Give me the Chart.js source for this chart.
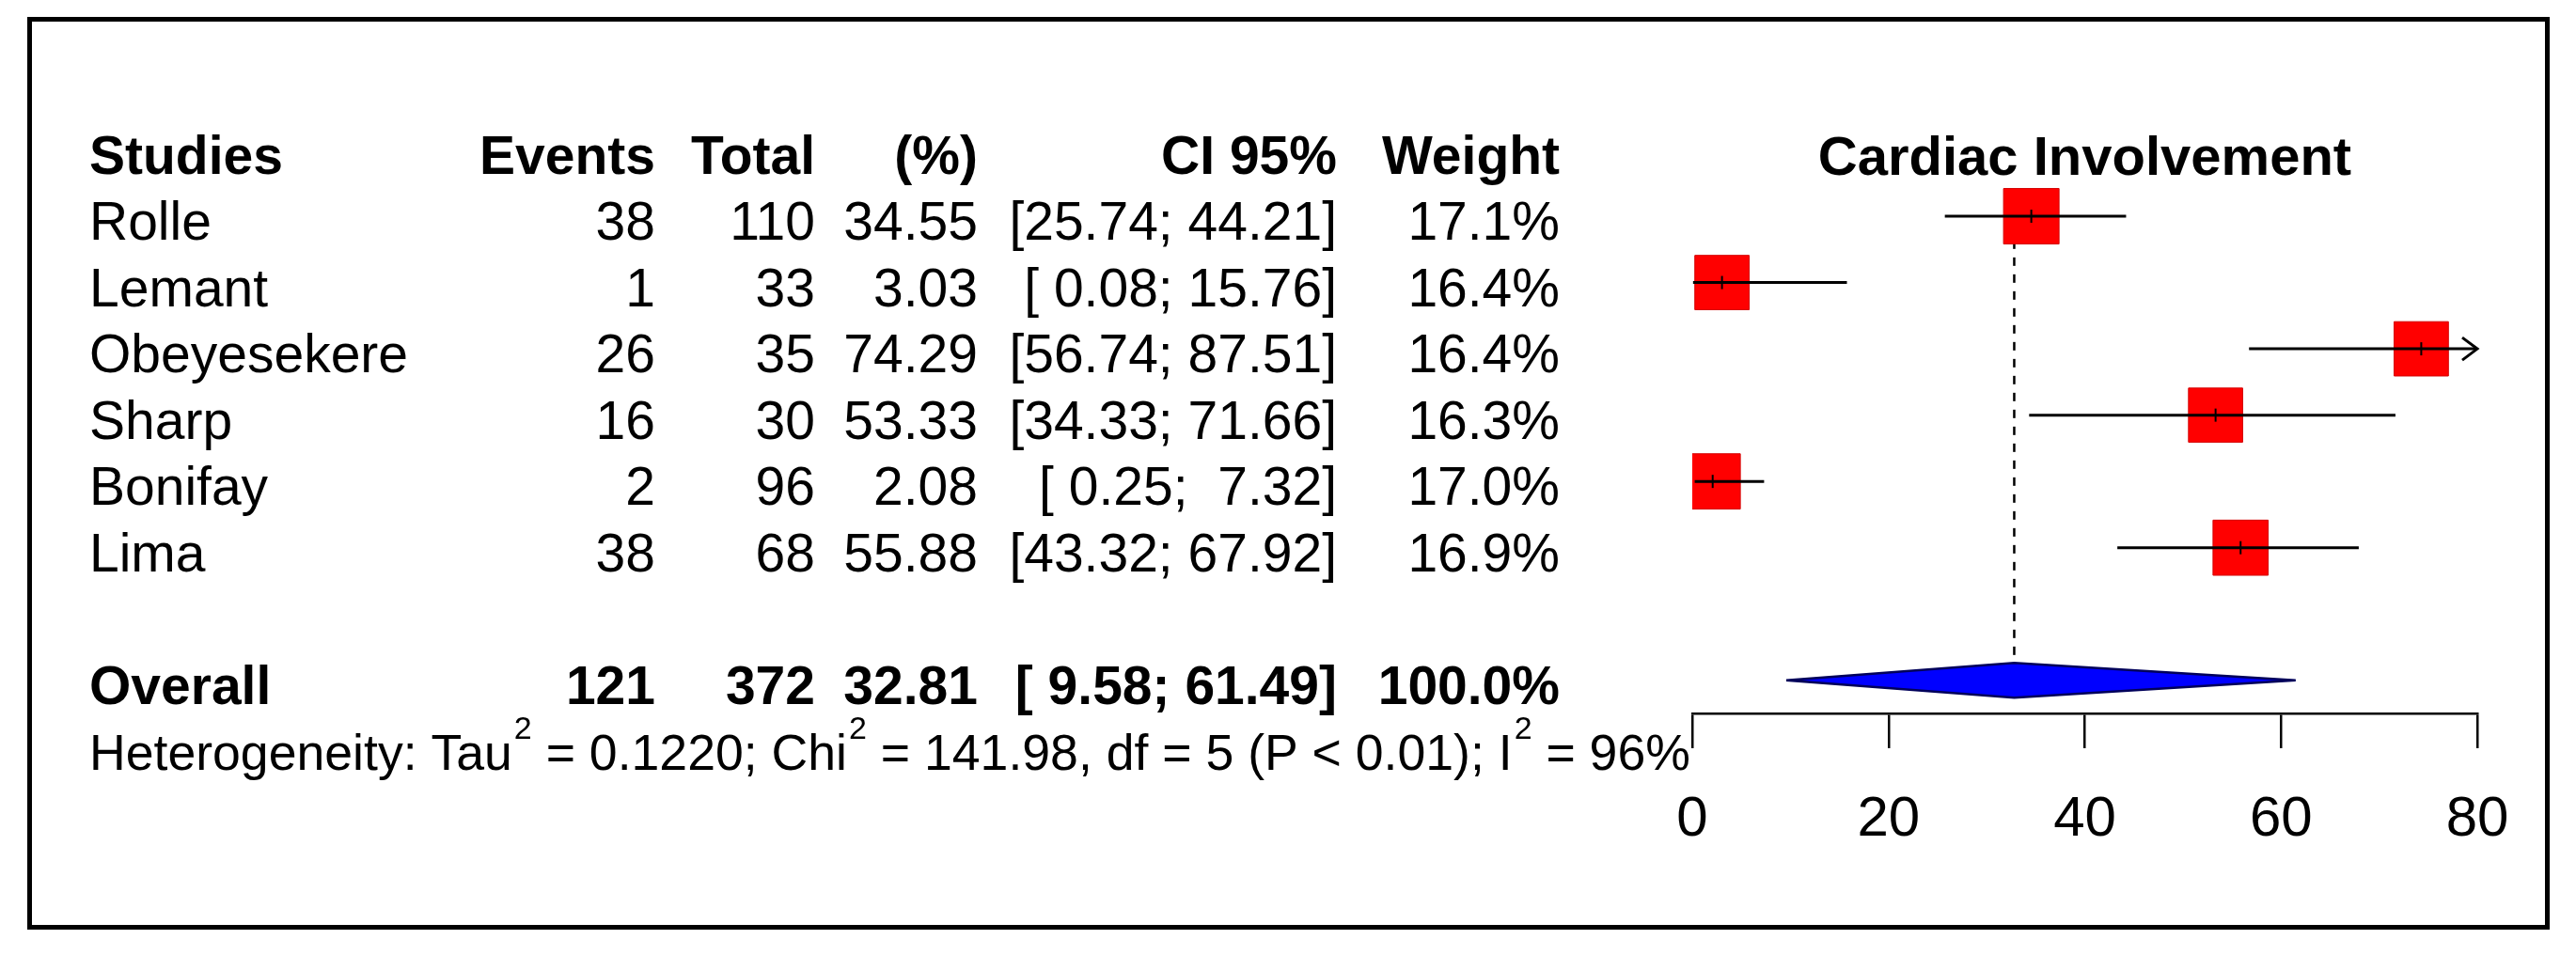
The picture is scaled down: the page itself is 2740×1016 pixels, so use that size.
<!DOCTYPE html>
<html>
<head>
<meta charset="utf-8">
<script src="https://cdn.jsdelivr.net/npm/chart.js@4.4.1/dist/chart.umd.min.js"></script>
<style>
  html, body { margin: 0; padding: 0; background: #ffffff; }
  #c { display: block; }
</style>
</head>
<body>
<canvas id="c" width="2740" height="1016"></canvas>
<script>
// ---------------- DATA ----------------
const chartTitle = 'Cardiac Involvement';
const headers = ['Studies', 'Events', 'Total', '(%)', 'CI 95%', 'Weight'];
const studies = ['Rolle', 'Lemant', 'Obeyesekere', 'Sharp', 'Bonifay', 'Lima'];
const events  = [38, 1, 26, 16, 2, 38];
const totals  = [110, 33, 35, 30, 96, 68];
const props   = [34.55, 3.03, 74.29, 53.33, 2.08, 55.88];
const ciLower = [25.74, 0.08, 56.74, 34.33, 0.25, 43.32];
const ciUpper = [44.21, 15.76, 87.51, 71.66, 7.32, 67.92];
const weights = [17.1, 16.4, 16.4, 16.3, 17.0, 16.9];

const overallLabel  = 'Overall';
const overallEvents = 121;
const overallTotal  = 372;
const overallProp   = 32.81;
const overallLower  = 9.58;
const overallUpper  = 61.49;
const overallWeight = 100.0;

const hetTau2 = '0.1220';
const hetChi2 = '141.98';
const hetDf   = 5;
const hetP    = '< 0.01';
const hetI2   = 96;

const xTicks = [0, 20, 40, 60, 80];

// row positions (category index on the vertical axis)
const headerRow  = 0;
const studyRows  = studies.map((s, i) => i + 1);
const overallRow = studies.length + 2;
const hetRow     = overallRow + 1;

// ---------------- STYLE ----------------
const FONT = "'Liberation Sans', Arial, Helvetica, sans-serif";
const REG = 57, BOLD = 57, HET = 53.6, SUP = 34, TITLE = 58, TICK = 60;
const colRight = { events: 697, total: 867, prop: 1040, ci: 1422, weight: 1659 };
const colLeft = 95;
const baseOff = 25;
const maxSide = 59;

const xMin = xTicks[0], xMax = xTicks[xTicks.length - 1];

function pad(v, w) { let s = v.toFixed(2); while (s.length < w) s = ' ' + s; return s; }
function ciText(lo, hi) { return '[' + pad(lo, 5) + '; ' + pad(hi, 5) + ']'; }

// ---------------- DATASETS ----------------
const squareData = props.map((p, i) => ({ x: p, y: studyRows[i] }));
const sideFor = w => maxSide * Math.sqrt(w / Math.max(...weights));
const squareRadius = weights.map(w => sideFor(w) / Math.SQRT2);

const ciData = [];
studies.forEach((s, i) => {
  ciData.push({ x: Math.max(ciLower[i], xMin), y: studyRows[i] });
  ciData.push({ x: Math.min(ciUpper[i], xMax), y: studyRows[i] });
  ciData.push({ x: ciLower[i], y: null });
});

const refData = [{ x: overallProp, y: 0.6 }, { x: overallProp, y: overallRow }];

// ---------------- PLUGIN ----------------
const forestPlugin = {
  id: 'forest',
  beforeDraw(chart) {
    const ctx = chart.ctx;
    ctx.save();
    ctx.fillStyle = '#ffffff';
    ctx.fillRect(0, 0, chart.width, chart.height);
    ctx.strokeStyle = '#000000';
    ctx.lineWidth = 5;
    ctx.strokeRect(31.5, 20.5, 2678, 966);
    ctx.restore();
  },
  afterDatasetsDraw(chart) {
    const ctx = chart.ctx;
    const xs = chart.scales.x, ys = chart.scales.y;
    // overall diamond
    const yc = ys.getPixelForValue(overallRow);
    const h = 18.5;
    const xl = xs.getPixelForValue(overallLower);
    const xe = xs.getPixelForValue(overallProp);
    const xh = xs.getPixelForValue(overallUpper);
    ctx.save();
    ctx.beginPath();
    ctx.moveTo(xl, yc);
    ctx.lineTo(xe, yc - h);
    ctx.lineTo(xh, yc);
    ctx.lineTo(xe, yc + h);
    ctx.closePath();
    ctx.fillStyle = '#0000ff';
    ctx.fill();
    ctx.strokeStyle = '#00005a';
    ctx.lineWidth = 2.5;
    ctx.stroke();
    ctx.restore();
    // arrows for clipped CIs
    ctx.save();
    ctx.strokeStyle = '#000';
    ctx.lineWidth = 3;
    studies.forEach((s, i) => {
      if (ciUpper[i] > xMax) {
        const ax = xs.getPixelForValue(xMax);
        const ay = ys.getPixelForValue(studyRows[i]);
        ctx.beginPath();
        ctx.moveTo(ax - 16, ay - 12);
        ctx.lineTo(ax, ay);
        ctx.lineTo(ax - 16, ay + 12);
        ctx.stroke();
      }
      if (ciLower[i] < xMin) {
        const ax = xs.getPixelForValue(xMin);
        const ay = ys.getPixelForValue(studyRows[i]);
        ctx.beginPath();
        ctx.moveTo(ax + 16, ay - 12);
        ctx.lineTo(ax, ay);
        ctx.lineTo(ax + 16, ay + 12);
        ctx.stroke();
      }
    });
    ctx.restore();
  },
  afterDraw(chart) {
    const ctx = chart.ctx;
    const xs = chart.scales.x, ys = chart.scales.y;
    const by = r => ys.getPixelForValue(r) + baseOff;
    ctx.save();
    ctx.fillStyle = '#000';
    ctx.textBaseline = 'alphabetic';
    const t = (s, x, y, align, bold, size) => {
      ctx.font = (bold ? 'bold ' : '') + size + 'px ' + FONT;
      ctx.textAlign = align;
      ctx.fillText(s, x, y);
    };
    // title
    t(chartTitle, (xs.getPixelForValue(xMin) + xs.getPixelForValue(xMax)) / 2, by(headerRow) + 1, 'center', true, TITLE);
    // header
    const hy = by(headerRow);
    t(headers[0], colLeft, hy, 'left', true, BOLD);
    t(headers[1], colRight.events, hy, 'right', true, BOLD);
    t(headers[2], colRight.total, hy, 'right', true, BOLD);
    t(headers[3], colRight.prop, hy, 'right', true, BOLD);
    t(headers[4], colRight.ci, hy, 'right', true, BOLD);
    t(headers[5], colRight.weight, hy, 'right', true, BOLD);
    // studies
    studies.forEach((s, i) => {
      const y = by(studyRows[i]);
      t(s, colLeft, y, 'left', false, REG);
      t(String(events[i]), colRight.events, y, 'right', false, REG);
      t(String(totals[i]), colRight.total, y, 'right', false, REG);
      t(props[i].toFixed(2), colRight.prop, y, 'right', false, REG);
      t(ciText(ciLower[i], ciUpper[i]), colRight.ci, y, 'right', false, REG);
      t(weights[i].toFixed(1) + '%', colRight.weight, y, 'right', false, REG);
    });
    // overall
    const oy = by(overallRow);
    t(overallLabel, colLeft, oy, 'left', true, BOLD);
    t(String(overallEvents), colRight.events, oy, 'right', true, BOLD);
    t(String(overallTotal), colRight.total, oy, 'right', true, BOLD);
    t(overallProp.toFixed(2), colRight.prop, oy, 'right', true, BOLD);
    t(ciText(overallLower, overallUpper), colRight.ci, oy, 'right', true, BOLD);
    t(overallWeight.toFixed(1) + '%', colRight.weight, oy, 'right', true, BOLD);
    // heterogeneity
    const parts = [
      ['Heterogeneity: Tau', 0], ['2', 1],
      [' = ' + hetTau2 + '; Chi', 0], ['2', 1],
      [' = ' + hetChi2 + ', df = ' + hetDf + ' (P ' + hetP + '); I', 0], ['2', 1],
      [' = ' + hetI2 + '%', 0]
    ];
    let x = colLeft;
    const hy2 = by(hetRow);
    ctx.textAlign = 'left';
    parts.forEach(([s, sup]) => {
      ctx.font = (sup ? SUP : HET) + 'px ' + FONT;
      ctx.fillText(s, x + (sup ? 2 : 0), sup ? hy2 - 33 : hy2);
      x += ctx.measureText(s).width + (sup ? 2 : 0);
    });
    ctx.restore();
  }
};

// ---------------- CHART ----------------
new Chart(document.getElementById('c'), {
  type: 'scatter',
  data: {
    datasets: [
      {
        label: 'reference',
        data: refData,
        showLine: true,
        borderColor: '#000',
        borderWidth: 2.5,
        borderDash: [9, 9],
        pointRadius: 0,
        order: 4
      },
      {
        label: 'studies',
        data: squareData,
        pointStyle: 'rect',
        pointRadius: squareRadius,
        backgroundColor: '#ff0000',
        borderColor: '#d40000',
        borderWidth: 1,
        order: 3
      },
      {
        label: 'ci',
        data: ciData,
        showLine: true,
        spanGaps: false,
        borderColor: '#000',
        borderWidth: 3,
        pointRadius: 0,
        order: 2
      },
      {
        label: 'estimate',
        data: squareData,
        pointStyle: 'line',
        rotation: 90,
        pointRadius: 7,
        borderColor: '#000',
        borderWidth: 2,
        order: 1
      }
    ]
  },
  options: {
    responsive: false,
    animation: false,
    events: [],
    layout: { padding: { top: 89, left: 1800, right: 105, bottom: 0 } },
    plugins: { legend: { display: false }, tooltip: { enabled: false }, title: { display: false } },
    scales: {
      x: {
        type: 'linear',
        min: xMin,
        max: xMax,
        afterBuildTicks: s => { s.ticks = xTicks.map(v => ({ value: v })); },
        afterFit: s => { s.height = 257; },
        ticks: { color: '#000', padding: 40, font: { family: FONT, size: TICK } },
        grid: { drawOnChartArea: false, drawTicks: true, tickLength: 37, color: '#000', lineWidth: 2.5 },
        border: { display: true, color: '#000', width: 2.5 }
      },
      y: {
        type: 'linear',
        display: false,
        reverse: true,
        min: -1,
        max: 8.5
      }
    }
  },
  plugins: [forestPlugin]
});
</script>
</body>
</html>
